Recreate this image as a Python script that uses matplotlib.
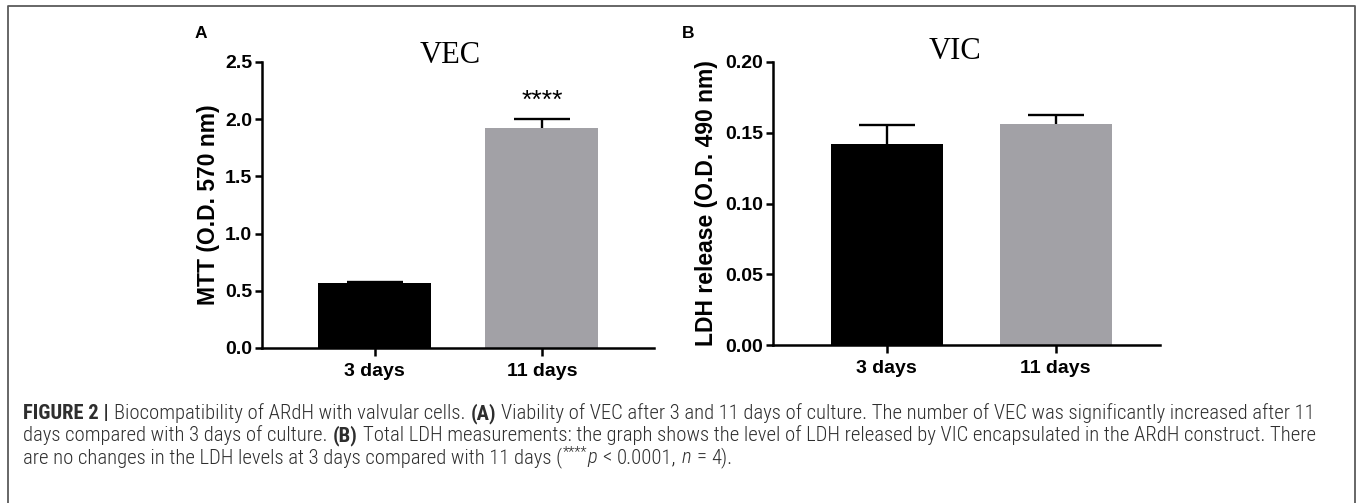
import matplotlib
matplotlib.use('Agg')
import matplotlib.pyplot as plt
from matplotlib.lines import Line2D
from matplotlib import font_manager as fm

W, H = 1357, 503
DPI = 100

# ---------------- data ----------------
categories = ['3 days', '11 days']
vec_mtt = [0.568, 1.923]
vec_err = [0.008, 0.080]
vic_ldh = [0.142, 0.156]
vic_err = [0.0135, 0.0065]
vec_ticks = [0.0, 0.5, 1.0, 1.5, 2.0, 2.5]
vic_ticks = [0.00, 0.05, 0.10, 0.15, 0.20]
bar_colors = ['#000000', '#a2a1a6']

SANS = ['Liberation Sans', 'DejaVu Sans']
plt.rcParams['font.family'] = SANS

# pick a condensed family for the caption if one is installed
installed = {f.name for f in fm.fontManager.ttflist}
CAP_FAMILY = ['Liberation Sans']
CAP_LIGHT = 'normal'
for cand, wt in [('Liberation Sans Narrow', 'normal'),
                 ('Roboto Condensed', 'light'),
                 ('Open Sans Condensed', 'light'),
                 ('Roboto', 'light')]:
    if cand in installed:
        CAP_FAMILY = [cand, 'Liberation Sans']
        CAP_LIGHT = wt
        break

fig = plt.figure(figsize=(W / DPI, H / DPI), dpi=DPI)


def px_axes(l, r, t, b):
    return fig.add_axes([l / W, 1 - b / H, (r - l) / W, (b - t) / H])


def draw_panel(ax, vals, errs, ticks, fmt, ylabel, xlim, width, label_x):
    x = list(range(len(categories)))
    ax.bar(x, vals, width=width, color=bar_colors, zorder=2)
    eb = ax.errorbar(x, vals, yerr=[[0] * len(errs), errs], fmt='none',
                     ecolor='black', elinewidth=1.7, capsize=20,
                     capthick=1.7, zorder=3)
    caps = eb[1]
    if len(caps) == 2:
        caps[0].set_visible(False)   # no cap at the bar top
    for s in ['top', 'right']:
        ax.spines[s].set_visible(False)
    for s in ['left', 'bottom']:
        ax.spines[s].set_linewidth(1.8)
    ax.set_xlim(*xlim)
    ax.set_ylim(ticks[0], ticks[-1])
    ax.set_yticks(ticks)
    ax.set_yticklabels([fmt.format(t) for t in ticks])
    ax.set_xticks(x)
    ax.set_xticklabels(categories)
    ax.tick_params(axis='y', length=5, width=1.8, pad=2, labelsize=14)
    ax.tick_params(axis='x', length=6, width=1.8, pad=5, labelsize=14)
    for lab in ax.get_xticklabels() + ax.get_yticklabels():
        lab.set_fontweight('bold')
    ax.set_ylabel(ylabel, fontsize=16.5, fontweight='bold')
    ax.yaxis.set_label_coords(label_x, 0.5)


axA = px_axes(262, 654, 62, 348)
draw_panel(axA, vec_mtt, vec_err, vec_ticks, '{:.1f}', 'MTT (O.D. 570 nm)',
           (-0.672, 1.669), 0.675, (220 - 262) / 392)
axA.text(1, vec_mtt[1] + vec_err[1] + 0.1, '****', ha='center',
         va='baseline', fontsize=19)

axB = px_axes(773, 1160, 62, 345)
draw_panel(axB, vic_ldh, vic_err, vic_ticks, '{:.2f}',
           'LDH release (O.D. 490 nm)', (-0.672, 1.618), 0.663,
           (718 - 773) / 387)

# titles and panel letters
fig.text(450 / W, 1 - 63 / H, 'VEC', ha='center', va='baseline',
         family='Liberation Serif', fontsize=22)
fig.text(955 / W, 1 - 59 / H, 'VIC', ha='center', va='baseline',
         family='Liberation Serif', fontsize=22)
fig.text(195 / W, 1 - 38 / H, 'A', ha='left', va='baseline',
         fontsize=12.5, fontweight='bold')
fig.text(682 / W, 1 - 38 / H, 'B', ha='left', va='baseline',
         fontsize=12.5, fontweight='bold')

# frame
frame_c = '#5a5a5a'
fig.add_artist(Line2D([8 / W, 8 / W, 1355 / W, 1355 / W],
                      [-0.01, 1 - 6 / H, 1 - 6 / H, -0.01],
                      transform=fig.transFigure, color=frame_c, lw=1.3))

# ---------------- caption ----------------
cap_color = '#2e2e2e'
N = CAP_LIGHT
cap_lines = [
    [('FIGURE 2 |', 'bold', 'normal'), (' ', N, 'normal'),
     ('Biocompatibility of ARdH with valvular cells.', N, 'normal'),
     (' ', N, 'normal'), ('(A)', 'bold', 'normal'),
     (' ', N, 'normal'),
     ('Viability of VEC after 3 and 11 days of culture. The number of VEC was significantly increased after 11',
      N, 'normal')],
    [('days compared with 3 days of culture.', N, 'normal'),
     (' ', N, 'normal'), ('(B)', 'bold', 'normal'),
     (' ', N, 'normal'),
     ('Total LDH measurements: the graph shows the level of LDH released by VIC encapsulated in the ARdH construct. There',
      N, 'normal')],
    [('are no changes in the LDH levels at 3 days compared with 11 days (', N, 'normal'),
     ('****', N, 'sup'), ('p', N, 'italic'),
     (' ', N, 'normal'), ('<', N, 'normal'),
     (' ', N, 'normal'), ('0.0001,', N, 'normal'),
     (' ', N, 'normal'), ('n', N, 'italic'),
     (' ', N, 'normal'), ('=', N, 'normal'),
     (' ', N, 'normal'), ('4).', N, 'normal')],
]
cap_baselines = [419, 441, 463]
cap_x0 = 23
cap_target_w = 1289

renderer = fig.canvas.get_renderer()


def text_w(s, size, weight='normal', style='normal'):
    t = fig.text(0, 0, s, fontsize=size, fontweight=weight, fontstyle=style,
                 family=CAP_FAMILY)
    w = t.get_window_extent(renderer=renderer).width
    t.remove()
    return w


def space_w(size):
    return text_w('a a', size, N) - text_w('aa', size, N)


def run_width(runs, size):
    total = 0
    for s, wt, st in runs:
        sz = size * 0.7 if st == 'sup' else size
        if s == ' ':
            total += space_w(size)
        else:
            total += text_w(s, sz, wt, 'italic' if st == 'italic' else 'normal') + 0.5
    return total


base = 12.0
w1 = run_width(cap_lines[0], base)
cap_size = base * cap_target_w / w1
sp = space_w(cap_size)

for runs, yb in zip(cap_lines, cap_baselines):
    x = cap_x0
    for s, wt, st in runs:
        if s == ' ':
            x += sp
            continue
        sz = cap_size * 0.7 if st == 'sup' else cap_size
        y = yb - (cap_size * 0.45 if st == 'sup' else 0)
        t = fig.text(x / W, 1 - y / H, s, fontsize=sz, fontweight=wt,
                     fontstyle='italic' if st == 'italic' else 'normal',
                     family=CAP_FAMILY, color=cap_color, ha='left',
                     va='baseline')
        x += t.get_window_extent(renderer=renderer).width + 0.5

fig.savefig('out.png', dpi=DPI)
